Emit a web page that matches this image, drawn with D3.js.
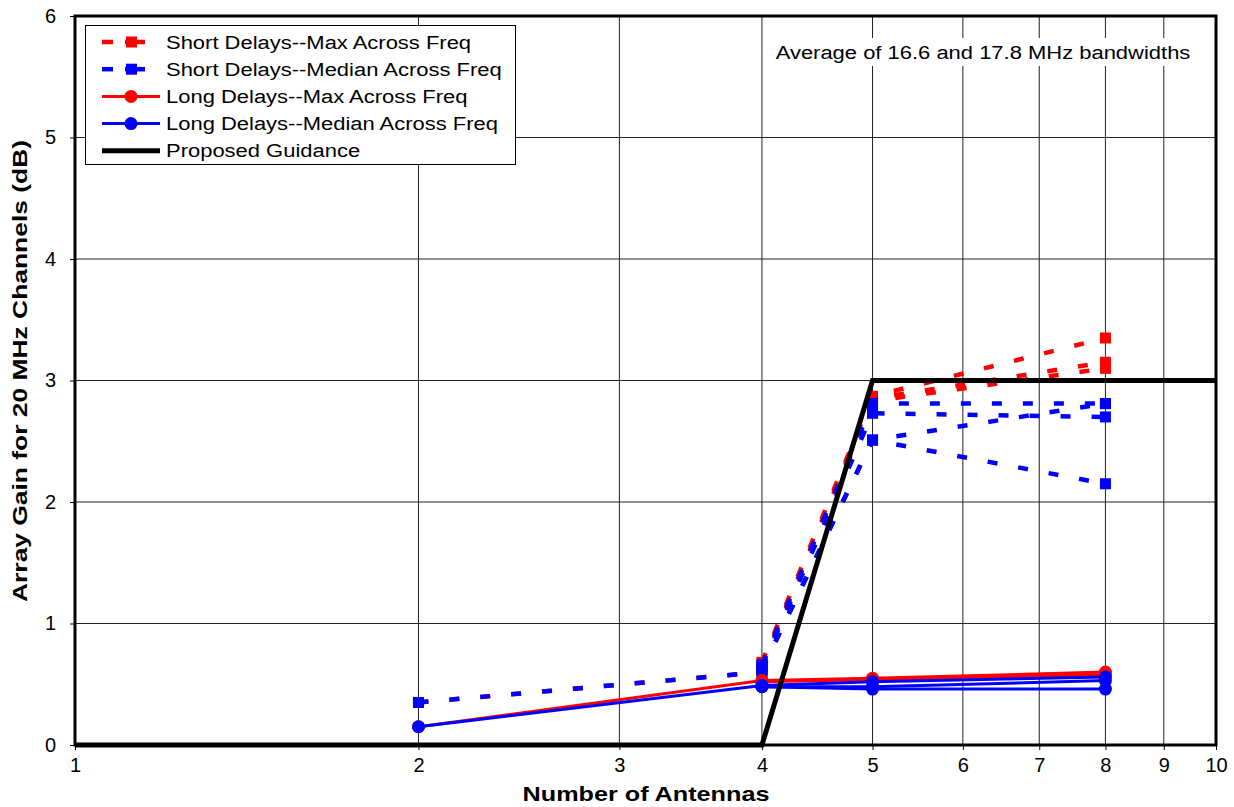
<!DOCTYPE html>
<html><head><meta charset="utf-8">
<script src="https://cdn.jsdelivr.net/npm/d3@7"></script>
<style>body{margin:0;background:#fff}svg text{font-family:"Liberation Sans",Arial,sans-serif}</style>
</head><body><svg id="c" width="1234" height="807"></svg>
<script>
// ---- data ----
const xTicks = [1,2,3,4,5,6,7,8,9,10];
const yTicks = [0,1,2,3,4,5,6];
const shortMaxLines = [
  [[2,0.35],[4,0.60]],
  [[4,0.68],[5,2.87],[8,3.35]],
  [[4,0.66],[5,2.85],[8,3.15]],
  [[4,0.65],[5,2.83],[8,3.10]]
];
const shortMedianLines = [
  [[2,0.35],[4,0.60]],
  [[4,0.66],[5,2.81],[8,2.81]],
  [[4,0.64],[5,2.73],[8,2.70]],
  [[4,0.62],[5,2.51],[8,2.15]],
  [[4,0.62],[5,2.51],[8,2.81]]
];
const longMaxLines = [
  [[2,0.15],[4,0.53]],
  [[4,0.53],[5,0.55],[8,0.60]],
  [[4,0.52],[5,0.54],[8,0.58]]
];
const longMedianLines = [
  [[2,0.15],[4,0.49]],
  [[4,0.49],[5,0.52],[8,0.56]],
  [[4,0.48],[5,0.48],[8,0.53]],
  [[4,0.48],[5,0.46],[8,0.46]]
];
const guidance = [[1,0],[4,0],[5,3],[10,3]];
const legendLabels = ["Short Delays--Max Across Freq","Short Delays--Median Across Freq","Long Delays--Max Across Freq","Long Delays--Median Across Freq","Proposed Guidance"];
const note = "Average of 16.6 and 17.8 MHz bandwidths";

// ---- layout ----
const svg = d3.select("#c");
const L=75,R=1216,T=16,B=745;
const SX = 1.22; // horizontal text stretch seen in the reference
const x = d3.scaleLog().domain([1,10]).range([L,R]);
const y = d3.scaleLinear().domain([0,6]).range([B,T]);

function stretch(sel,f){
  sel.each(function(){const w=this.getComputedTextLength();d3.select(this).attr("textLength",w*f).attr("lengthAdjust","spacingAndGlyphs");});
}

// grid
svg.append("g").selectAll("line").data(xTicks).join("line")
  .attr("x1",d=>x(d)).attr("x2",d=>x(d)).attr("y1",T).attr("y2",B)
  .attr("stroke","#222").attr("stroke-width",1);
svg.append("g").selectAll("line").data(yTicks).join("line")
  .attr("x1",L).attr("x2",R).attr("y1",d=>y(d)).attr("y2",d=>y(d))
  .attr("stroke","#222").attr("stroke-width",1);

// axes
const xa = svg.append("g").attr("transform",`translate(0,${B})`)
  .call(d3.axisBottom(x).tickValues(xTicks).tickFormat(d3.format("d")).tickSize(5).tickPadding(8));
const ya = svg.append("g").attr("transform",`translate(${L},0)`)
  .call(d3.axisLeft(y).tickValues(yTicks).tickFormat(d3.format("d")).tickSize(5).tickPadding(14));
[xa,ya].forEach(a=>{a.select(".domain").remove();a.selectAll("text").attr("font-size",20).attr("fill","#000").style("font-family","'Liberation Sans',Arial,sans-serif");a.selectAll("line").attr("stroke","#000");});

const line = d3.line().x(d=>x(d[0])).y(d=>y(d[1]));

function drawSeries(lines,color,dashed,marker){
  const g = svg.append("g");
  lines.forEach(pts=>{
    g.append("path").attr("d",line(pts)).attr("fill","none").attr("stroke",color)
      .attr("stroke-width",dashed?4.5:3).attr("stroke-dasharray",dashed?"10,21":null);
  });
  lines.forEach(pts=>{
    pts.forEach(p=>{
      if(marker==="square") g.append("rect").attr("x",x(p[0])-5.5).attr("y",y(p[1])-5.5).attr("width",11).attr("height",11).attr("fill",color);
      else g.append("circle").attr("cx",x(p[0])).attr("cy",y(p[1])).attr("r",6.5).attr("fill",color);
    });
  });
}
drawSeries(shortMaxLines,"#ff0000",true,"square");
drawSeries(shortMedianLines,"#0000ff",true,"square");
drawSeries(longMaxLines,"#ff0000",false,"circle");
drawSeries(longMedianLines,"#0000ff",false,"circle");
svg.append("path").attr("d",line(guidance)).attr("fill","none").attr("stroke","#000").attr("stroke-width",5);

// border
svg.append("rect").attr("x",L).attr("y",T).attr("width",R-L).attr("height",B-T)
  .attr("fill","none").attr("stroke","#000").attr("stroke-width",3);

// legend
const lg = svg.append("g");
lg.append("rect").attr("x",85.5).attr("y",25.5).attr("width",430).attr("height",139).attr("fill","#fff").attr("stroke","#000").attr("stroke-width",1);
const lc = ["#ff0000","#0000ff","#ff0000","#0000ff","#000"];
legendLabels.forEach((t,i)=>{
  const yy = 42 + i*27.2;
  if(i<2){
    lg.append("line").attr("x1",102).attr("x2",113).attr("y1",yy).attr("y2",yy).attr("stroke",lc[i]).attr("stroke-width",4.5);
    lg.append("line").attr("x1",125).attr("x2",145).attr("y1",yy).attr("y2",yy).attr("stroke",lc[i]).attr("stroke-width",4.5);
    lg.append("rect").attr("x",126).attr("y",yy-5.5).attr("width",11).attr("height",11).attr("fill",lc[i]);
  } else if(i<4){
    lg.append("line").attr("x1",102).attr("x2",160).attr("y1",yy).attr("y2",yy).attr("stroke",lc[i]).attr("stroke-width",3);
    lg.append("circle").attr("cx",131).attr("cy",yy).attr("r",6.5).attr("fill",lc[i]);
  } else {
    lg.append("line").attr("x1",102).attr("x2",160).attr("y1",yy).attr("y2",yy).attr("stroke",lc[i]).attr("stroke-width",5);
  }
  lg.append("text").attr("class","lgt").attr("x",166).attr("y",yy+6.5).attr("font-size",18).text(t);
});
stretch(lg.selectAll(".lgt"),SX);

// note
svg.append("rect").attr("x",770).attr("y",38).attr("width",426).attr("height",28).attr("fill","#fff");
const nt = svg.append("text").attr("x",983).attr("y",59).attr("text-anchor","middle").attr("font-size",18).text(note);
stretch(nt,SX);

// titles
const xt = svg.append("text").attr("x",646).attr("y",801).attr("text-anchor","middle").attr("font-size",21).attr("font-weight","bold").text("Number of Antennas");
stretch(xt,1.2);
const yt = svg.append("text").attr("transform",`translate(27,371) rotate(-90)`).attr("text-anchor","middle").attr("font-size",21).attr("font-weight","bold").text("Array Gain for 20 MHz Channels (dB)");
yt.attr("textLength",462).attr("lengthAdjust","spacingAndGlyphs");
</script></body></html>
